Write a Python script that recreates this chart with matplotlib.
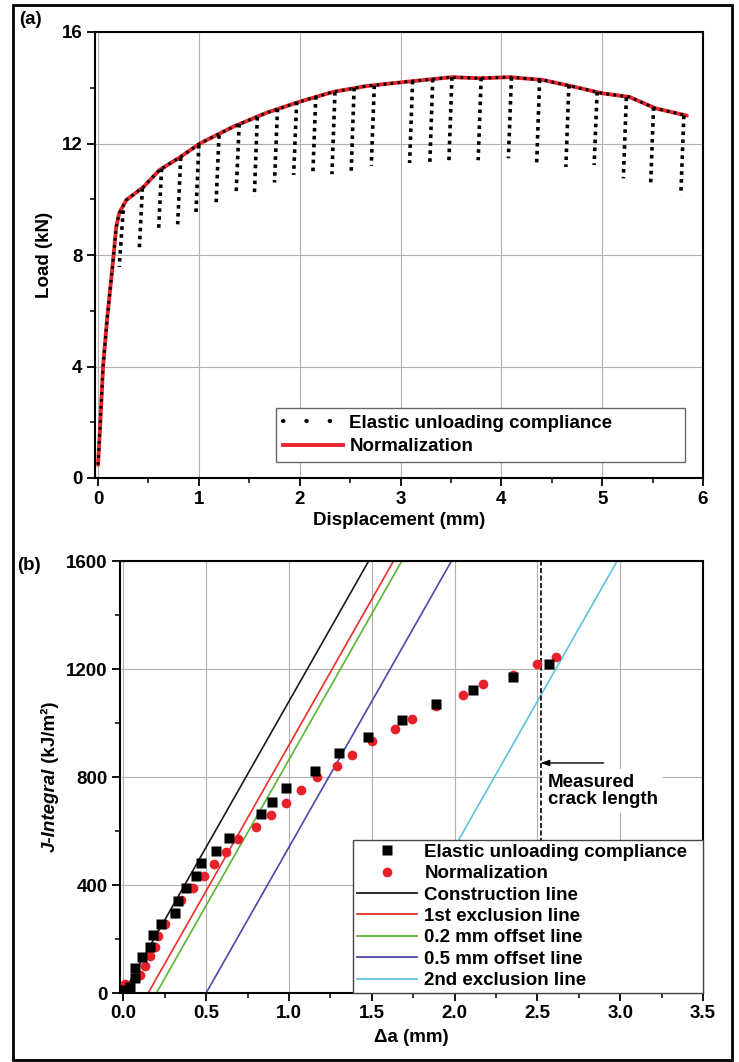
import numpy as np
import matplotlib.pyplot as plt
from matplotlib.lines import Line2D
from matplotlib.patches import Rectangle
from matplotlib.ticker import MultipleLocator, FormatStrFormatter

plt.rcParams['font.family'] = ['Liberation Sans', 'DejaVu Sans']
plt.rcParams['font.weight'] = 'bold'
plt.rcParams['axes.labelweight'] = 'bold'

# ---- (a) load vs displacement record ----
env_disp = [0.0, 0.02, 0.05, 0.09, 0.13, 0.16, 0.18, 0.21, 0.28, 0.45, 0.61, 0.81,
            1.01, 1.34, 1.67, 2.0, 2.33, 2.66, 3.02, 3.51, 3.78, 4.08, 4.41, 4.74,
            5.0, 5.27, 5.53, 5.84]
env_load = [0.47, 1.8, 4.0, 5.7, 7.1, 8.2, 9.0, 9.5, 9.97, 10.44, 11.05, 11.5,
            12.0, 12.6, 13.1, 13.5, 13.85, 14.06, 14.2, 14.38, 14.34, 14.38, 14.28, 14.02,
            13.8, 13.67, 13.26, 13.0]

# unloading sequences: start (top) and end (bottom) of each partial unload
unload_disp_top = [0.25, 0.44, 0.63, 0.82, 1.00, 1.20, 1.40, 1.58, 1.78, 1.97, 2.16, 2.35,
                   2.54, 2.74, 3.12, 3.32, 3.51, 3.80, 4.10, 4.38, 4.67, 4.95, 5.24, 5.51, 5.81]
unload_load_top = [9.6, 10.4, 11.1, 11.5, 11.95, 12.3, 12.7, 12.95, 13.25, 13.5, 13.7, 13.85,
                   14.0, 14.08, 14.25, 14.32, 14.38, 14.36, 14.38, 14.3, 14.1, 13.85, 13.65, 13.3, 13.0]
unload_disp_bot = [0.21, 0.41, 0.60, 0.79, 0.97, 1.17, 1.37, 1.55, 1.75, 1.94, 2.13, 2.32,
                   2.51, 2.71, 3.09, 3.29, 3.48, 3.77, 4.07, 4.35, 4.64, 4.92, 5.21, 5.48, 5.78]
unload_load_bot = [7.57, 8.25, 8.83, 9.1, 9.4, 9.76, 10.23, 10.1, 10.6, 10.87, 10.87, 10.9,
                   10.93, 11.2, 11.3, 11.23, 11.4, 11.4, 11.47, 11.26, 11.16, 11.23, 10.75, 10.48, 10.15]

# ---- (b) J-R curve ----
euc_da = [0.00, 0.04, 0.07, 0.07, 0.11, 0.16, 0.18, 0.23, 0.31, 0.33, 0.38, 0.44, 0.47,
          0.56, 0.64, 0.83, 0.90, 0.98, 1.16, 1.30, 1.48, 1.68, 1.89, 2.11, 2.35, 2.57]
euc_J = [11, 22, 56, 93, 133, 170, 215, 256, 296, 341, 389, 433, 481,
         526, 574, 663, 707, 759, 822, 889, 948, 1011, 1070, 1122, 1170, 1219]
norm_da = [0.01, 0.10, 0.13, 0.16, 0.19, 0.21, 0.25, 0.31, 0.35, 0.42, 0.49, 0.55, 0.62,
           0.69, 0.80, 0.89, 0.98, 1.07, 1.17, 1.29, 1.38, 1.50, 1.64, 1.74, 1.89, 2.05,
           2.17, 2.35, 2.50, 2.61]
norm_J = [33, 67, 100, 137, 170, 211, 256, 296, 344, 389, 433, 478, 522,
          570, 615, 659, 704, 752, 800, 841, 881, 932, 978, 1015, 1063, 1104,
          1144, 1178, 1219, 1244]

construction_slope = 1080.0  # kJ/m^2 per mm
line_names = ['Construction line', '1st exclusion line', '0.2 mm offset line',
              '0.5 mm offset line', '2nd exclusion line']
line_offsets = [0.0, 0.15, 0.2, 0.5, 1.5]
line_colors = ['#1a1a1a', '#e8302a', '#5cb531', '#4b47a8', '#5ec3df']
crack_length = 2.52

RED = '#e8262b'
GRID = '#b8adad'
FS = 13.5


def style_axes(ax):
    for s in ax.spines.values():
        s.set_linewidth(1.5)
        s.set_color('black')
    ax.tick_params(which='major', direction='out', length=6, width=1.3,
                   labelsize=13.5, pad=3, colors='black')
    ax.tick_params(which='minor', direction='out', length=3.5, width=1.1)
    ax.grid(True, which='major', color=GRID, lw=0.8)
    ax.set_axisbelow(True)


fig = plt.figure(figsize=(7.39, 10.62), dpi=100)

# top panel
ax1 = fig.add_axes([95 / 739, 1 - 478 / 1062, 608 / 739, 446 / 1062])
style_axes(ax1)
ax1.plot(env_disp, env_load, color=RED, lw=2.8, solid_capstyle='round', zorder=3)
ax1.plot(env_disp, env_load, color='black', lw=2.2, ls=(0, (0.9, 1.4)), zorder=4)
for x0, y0, x1, y1 in zip(unload_disp_top, unload_load_top, unload_disp_bot, unload_load_bot):
    ax1.plot([x0, x1], [y0, y1], color='black', lw=2.6, ls=(0, (1.0, 1.2)), zorder=4)

ax1.set_xlim(-0.03, 6.0)
ax1.set_ylim(0, 16)
ax1.xaxis.set_major_locator(MultipleLocator(1))
ax1.xaxis.set_minor_locator(MultipleLocator(0.5))
ax1.yaxis.set_major_locator(MultipleLocator(4))
ax1.yaxis.set_minor_locator(MultipleLocator(2))
ax1.set_xlabel('Displacement (mm)', fontsize=FS, labelpad=3)
ax1.set_ylabel('Load (kN)', fontsize=FS, labelpad=6)

h_euc = Line2D([], [], color='black', lw=3.0, ls=(0, (0.1, 5.5)), dash_capstyle='round')
h_norm = Line2D([], [], color=RED, lw=2.8)
leg1 = ax1.legend([h_euc, h_norm], ['Elastic unloading compliance', 'Normalization'],
                  loc='lower left', bbox_to_anchor=(0.298, 0.036, 0.672, 0.125),
                  mode='expand', borderaxespad=0, fontsize=FS, handlelength=3.2,
                  handletextpad=0.35, borderpad=0.35, labelspacing=0.35,
                  fancybox=False, edgecolor='#666666', framealpha=1)
leg1.get_frame().set_linewidth(1.0)

# bottom panel
ax2 = fig.add_axes([120 / 739, 1 - 993 / 1062, 583 / 739, 432 / 1062])
style_axes(ax2)
handles = []
for name, off, col in zip(line_names, line_offsets, line_colors):
    ax2.axline((off, 0), slope=construction_slope, color=col, lw=1.2, zorder=2)
    handles.append(Line2D([], [], color=col, lw=1.3))
h_n, = ax2.plot(norm_da, norm_J, 'o', color='#e8202a', ms=7, mec='none', zorder=4)
h_e, = ax2.plot(euc_da, euc_J, 's', color='black', ms=6.5, mec='none', zorder=5)

ax2.axvline(crack_length, color='black', lw=1.2, ls=(0, (3, 1.5)), zorder=2)
ax2.text(2.565, 748, 'Measured\ncrack length', fontsize=FS, ha='left', va='center',
         linespacing=1.05, zorder=6,
         bbox=dict(boxstyle='square,pad=0.25', fc='white', ec='none'))
ax2.annotate('', xy=(crack_length, 852), xytext=(2.9, 852),
             arrowprops=dict(arrowstyle='-|>,head_length=0.5,head_width=0.18',
                             color='black', lw=1.0, shrinkA=0, shrinkB=0), zorder=6)

ax2.set_xlim(-0.02, 3.5)
ax2.set_ylim(0, 1600)
ax2.xaxis.set_major_locator(MultipleLocator(0.5))
ax2.xaxis.set_minor_locator(MultipleLocator(0.25))
ax2.xaxis.set_major_formatter(FormatStrFormatter('%.1f'))
ax2.yaxis.set_major_locator(MultipleLocator(400))
ax2.yaxis.set_minor_locator(MultipleLocator(200))
ax2.set_xlabel('\u0394a (mm)', fontsize=FS, labelpad=5)

leg2 = ax2.legend([h_e, h_n] + handles,
                  ['Elastic unloading compliance', 'Normalization'] + line_names,
                  loc='lower right', bbox_to_anchor=(0.4, 0.0, 0.6, 0.37),
                  mode='expand', borderaxespad=0, fontsize=FS, handlelength=3.2,
                  handletextpad=0.4, borderpad=0.2, labelspacing=0.23,
                  fancybox=False, edgecolor='#444444', framealpha=1)
leg2.get_frame().set_linewidth(1.0)
leg2.set_zorder(7)

# J-Integral label: italic symbol name followed by upright units
fig.canvas.draw()
rend = fig.canvas.get_renderer()
lab_x = 50 / 739
tj = fig.text(lab_x, 0, 'J-Integral', rotation=90, style='italic', fontsize=FS,
              ha='center', va='bottom')
tu = fig.text(lab_x, 0, ' (kJ/m\u00b2)', rotation=90, fontsize=FS, ha='center', va='bottom')
h1 = tj.get_window_extent(rend).height
h2 = tu.get_window_extent(rend).height
y_mid = 1062 - 777
tj.set_position((lab_x, (y_mid - (h1 + h2) / 2) / 1062))
tu.set_position((lab_x, (y_mid - (h1 + h2) / 2 + h1) / 1062))

fig.text(30 / 739, 1 - 20 / 1062, '(a)', ha='center', va='center', fontsize=FS)
fig.text(29 / 739, 1 - 566 / 1062, '(b)', ha='center', va='center', fontsize=FS)

fig.add_artist(Rectangle((13 / 739, 1 - 1060 / 1062), (732 - 13) / 739, (1060 - 5) / 1062,
                         transform=fig.transFigure, fill=False, ec='black', lw=2))

fig.savefig('out.png', dpi=100)
